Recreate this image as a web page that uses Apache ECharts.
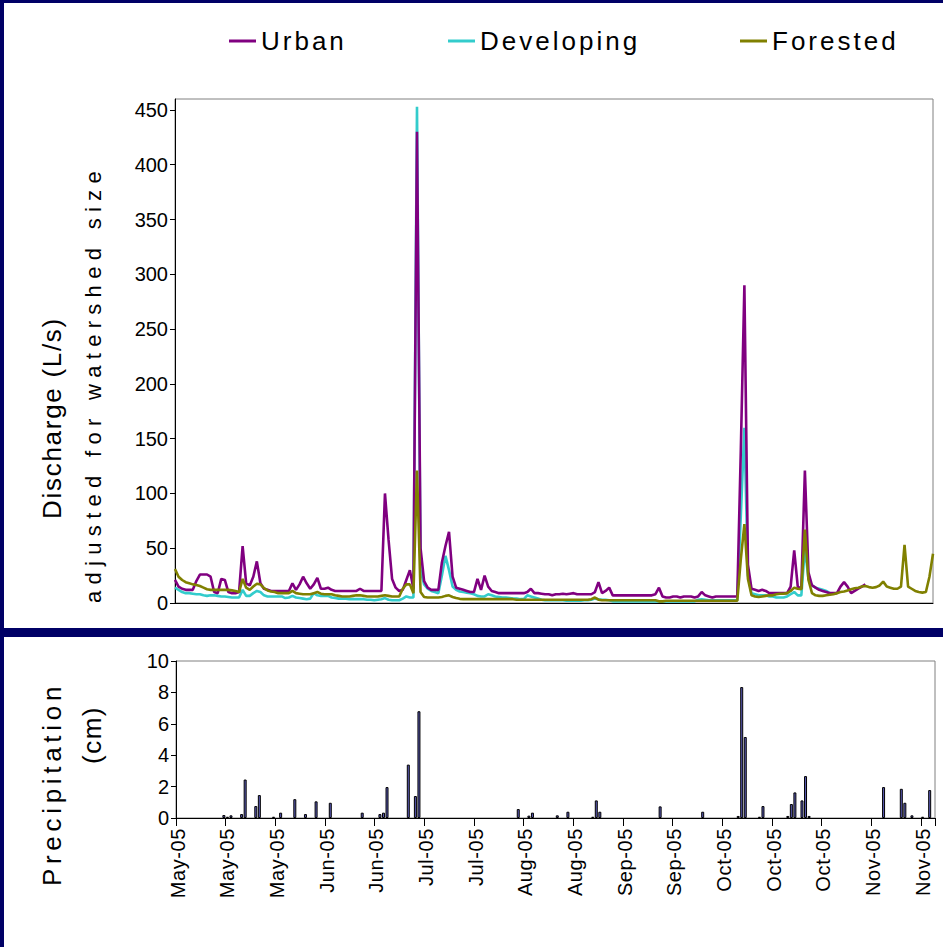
<!DOCTYPE html>
<html><head><meta charset="utf-8">
<script src="https://cdn.jsdelivr.net/npm/echarts@6/dist/echarts.min.js"></script>
<style>
html,body{margin:0;padding:0;background:#000066;}
#wrap{position:relative;width:943px;height:947px;background:#000066;overflow:hidden}
.panel{position:absolute;background:#fff}
#chart{position:absolute;left:0;top:0;width:943px;height:947px}
</style></head><body>
<div id="wrap">
<div class="panel" style="left:4px;top:3px;width:939px;height:625px"></div>
<div class="panel" style="left:4px;top:637px;width:939px;height:310px"></div>
<div id="chart"></div>
</div>
<script>
// ---- data ----
const startDate = [2005, 4, 1]; // 1 May 2005
const dayCount = 214;
const xTickLabels = ['May-05','May-05','May-05','Jun-05','Jun-05','Jul-05','Jul-05','Aug-05','Aug-05','Sep-05','Sep-05','Oct-05','Oct-05','Oct-05','Nov-05','Nov-05'];
const dischargeTicks = [0,50,100,150,200,250,300,350,400,450];
const precipTicks = [0,2,4,6,8,10];

const urban = [
21,15,13,12,12,12,20,26,26,26,
24,10,9,22,21,10,9,9,10,52,
18,16,24,38,18,13,12,11,11,11,
11,11,11,18,12,17,24,18,13,17,
23,13,13,14,12,11,11,11,11,11,
11,11,13,11,11,11,11,11,11,100,
58,22,14,11,12,21,30,13,430,50,
20,14,12,12,12,37,52,65,24,14,
13,12,11,10,10,22,12,25,15,11,
10,9,9,9,9,9,9,9,9,10,
13,9,9,8.5,8,8,7,8,8,8.5,
8,8.5,9,8,8,8,8,8,10,19,
9,11,14,7,7,7,7,7,7,7,
7,7,7,7,7,8,14,6,5,5,
6,6,5,6,6,6,5,6,10,7,
6,5,6,6,6,6,6,6,6,140,
290,35,13,12,11,12,11,9,9,9,
9,9,9,15,48,15,13,121,28,16,
14,12,11,10,9,9,9,15,19,15,
9,11,13,15,17
];
const developing = [
14,12,10,9,9,8.5,8,8,7,6.5,
7,7,6.5,6,6,5.5,5,5,5,12,
6.5,6.5,9,11,10,7,6,6,6,6,
6,4.5,5,6.5,5,4.5,4,3.5,4,9,
7,6.5,6.5,6.5,5,4.5,4,4,4,3.5,
3.5,3.5,3.5,3.5,3,3,2.5,3,3.5,4.5,
3,2.5,2.5,2.5,4,6,5,5,453,30,
17,13,11,10,9,25,43,30,15,12,
10.5,10,9.5,9,8,6.5,6,6,8,7,
6,5.5,5,5,4.5,4,4,3.5,3.5,7,
6,5,4,3,2.5,2.5,2.5,2.5,2.5,2.5,
2,2,2,2,2,2.5,2.5,3,4,3.5,
3,3,2.5,1.5,1.5,1.5,1.5,1.5,1.5,1.5,
1.5,1.5,1.5,1.5,1.5,1.5,1.5,1.5,1.5,1.5,
1.5,1.5,1.5,1.5,1.5,1.5,1.5,3,3.5,3,
2.5,2.5,2.5,2.5,2.5,2.5,2.5,2.5,2.5,80,
160,25,9,8,7,7,7,6,6,5,
5,5,6,8,10,7,7,50,22,16,
14,13,12,11,9
];
const forested = [
31,24,21,19,18,17,16.5,15.5,14,12.5,
12,12,12,12,12,12,11.5,11,10,22,
14,12,15,17.5,17,13.5,11.5,10.5,10,9,
9,9,9,11,9,8.5,8,8,8,9,
10,8.5,8,8,8,7,6.5,6,6,6,
6.5,7,7,6.5,6,6,6,6,6.5,7,
6.5,6,6,6,13,17,17,9,121,10,
5.5,5,5,5,5,5.5,6.5,7,5.5,4.5,
3.8,3.5,3.5,3.5,3.5,3.5,3.5,3.5,3.5,3.5,
3.5,3.5,3.5,3.5,3.5,3.5,3,3,3,3,
3,3,3,3,3,3,3,3,3,3,
3,3,3,3,3,3,3,3.5,5,3,
2.5,2.5,2.5,2.5,2.5,2.5,2.5,2.5,2.5,2.5,
2.5,2.5,2.5,2.5,2.5,2.5,1.5,1.5,2,2,
2,2,2,2,2,2,2,2,2,2,
2,2,2,2,2,2,2,2,2,40,
72,22,7,6,5.5,6,6.5,7,7,8,
8.5,8.5,9,11,14,13,12.5,67,21,9,
7,6.5,6.5,7,7.5,8,9,10,10.5,11.5,
12.5,13.5,14,15,15.5,14.5,14,14.5,16,19.5,
15,14,13,13,15,53,15,13,11,10,
9.5,10,24,45
];
const rainDays = [13,14,15,18,19,22,23,27,29,33,36,39,43,52,57,58,59,65,67,68,96,99,100,107,110,117,118,119,136,148,158,159,160,164,165,172,173,174,176,177,178,199,204,205,207,210,212];
const rainCm   = [0.19,0.08,0.17,0.25,2.45,0.76,1.46,0.08,0.34,1.2,0.25,1.06,0.97,0.34,0.25,0.34,1.97,3.4,1.4,6.8,0.57,0.15,0.34,0.17,0.4,0.08,1.12,0.4,0.74,0.4,0.13,8.34,5.16,0.08,0.76,0.13,0.89,1.63,1.12,2.67,0.13,1.97,1.86,0.97,0.17,0.08,1.78];

// ---- build ----
const categories = [];
for (let i = 0; i < dayCount; i++) {
  const d = new Date(startDate[0], startDate[1] - 1, startDate[2] + i);
  categories.push(d.getFullYear() + '-' + (d.getMonth() + 1) + '-' + d.getDate());
}
const rainData = rainDays.map((d, i) => [d, rainCm[i]]);

const FONT = 'Liberation Sans';
const legendBase = {
  top: 23, icon: 'rect', itemWidth: 27, itemHeight: 3, selectedMode: false,
  textStyle: { fontSize: 26, fontFamily: FONT, color: '#000' }
};
const chart = echarts.init(document.getElementById('chart'), null, { renderer: 'svg', width: 943, height: 947 });
const option = {
  animation: false,
  legend: [
    Object.assign({ data: ['Urban'], left: 224 }, legendBase),
    Object.assign({ data: ['Developing'], left: 443 }, legendBase),
    Object.assign({ data: ['Forested'], left: 735 }, legendBase)
  ],
  grid: [
    { left: 175, right: 10, top: 99, height: 504, show: true, borderColor: '#808080', borderWidth: 1, containLabel: false },
    { left: 176, right: 8, top: 661, height: 157, show: true, borderColor: '#808080', borderWidth: 1, containLabel: false }
  ],
  xAxis: [
    { type: 'category', gridIndex: 0, data: categories, boundaryGap: false,
      axisLine: { lineStyle: { color: '#000', width: 1 } }, axisTick: { show: false }, axisLabel: { show: false }, splitLine: { show: false } },
    { type: 'category', gridIndex: 1, data: categories, boundaryGap: true,
      axisLine: { lineStyle: { color: '#000', width: 1 } },
      axisTick: { show: true, interval: 13, length: 8, lineStyle: { color: '#000' } },
      axisLabel: { interval: 13, rotate: 90, margin: 10, fontSize: 20, fontFamily: FONT, color: '#000',
        formatter: (v, i) => xTickLabels[Math.round(i / 14)] || '' },
      splitLine: { show: false } }
  ],
  yAxis: [
    { type: 'value', gridIndex: 0, min: 0, max: 460, interval: 50,
      axisLine: { show: true, lineStyle: { color: '#000' } },
      axisTick: { show: true, length: 5, lineStyle: { color: '#000' }, customValues: dischargeTicks },
      axisLabel: { fontSize: 20, fontFamily: FONT, color: '#000', margin: 7, customValues: dischargeTicks },
      splitLine: { show: false } },
    { type: 'value', gridIndex: 1, min: 0, max: 10, interval: 2,
      axisLine: { show: true, lineStyle: { color: '#000' } },
      axisTick: { show: true, length: 5, lineStyle: { color: '#000' }, customValues: precipTicks },
      axisLabel: { fontSize: 20, fontFamily: FONT, color: '#000', margin: 7, customValues: precipTicks },
      splitLine: { show: false } }
  ],
  graphic: [
    { type: 'text', x: 52, y: 418, rotation: Math.PI / 2,
      style: { text: 'Discharge (L/s)', fontSize: 26, fontFamily: FONT, fill: '#000', textAlign: 'center', textVerticalAlign: 'middle' } },
    { type: 'text', x: 93, y: 384, rotation: Math.PI / 2,
      style: { text: 'adjusted for watershed size', fontSize: 22, fontFamily: FONT, fill: '#000', textAlign: 'center', textVerticalAlign: 'middle' } },
    { type: 'text', x: 52, y: 784, rotation: Math.PI / 2,
      style: { text: 'Precipitation', fontSize: 26, fontFamily: FONT, fill: '#000', textAlign: 'center', textVerticalAlign: 'middle' } },
    { type: 'text', x: 92, y: 735, rotation: Math.PI / 2,
      style: { text: '(cm)', fontSize: 26, fontFamily: FONT, fill: '#000', textAlign: 'center', textVerticalAlign: 'middle' } }
  ],
  series: [
    { name: 'Urban', type: 'line', xAxisIndex: 0, yAxisIndex: 0, data: urban, symbol: 'none', z: 3,
      itemStyle: { color: '#800080' }, lineStyle: { color: '#800080', width: 2.6 } },
    { name: 'Developing', type: 'line', xAxisIndex: 0, yAxisIndex: 0, data: developing, symbol: 'none', z: 2,
      itemStyle: { color: '#33CCCC' }, lineStyle: { color: '#33CCCC', width: 2.6 } },
    { name: 'Forested', type: 'line', xAxisIndex: 0, yAxisIndex: 0, data: forested, symbol: 'none', z: 4,
      itemStyle: { color: '#808000' }, lineStyle: { color: '#808000', width: 2.6 } },
    { name: 'Precipitation', type: 'bar', xAxisIndex: 1, yAxisIndex: 1, data: rainData, barWidth: 3,
      itemStyle: { color: '#5a5ab4', borderColor: '#000', borderWidth: 1 } }
  ]
};
chart.setOption(option);

const SPACING = { 'Discharge (L/s)': 1.7, 'adjusted for watershed size': 6.3, 'Precipitation': 4.7, '(cm)': 1.5,
  'Urban': 3, 'Developing': 3, 'Forested': 3 };
function applySpacing() {
  document.querySelectorAll('#chart svg text').forEach(t => {
    const s = t.textContent;
    let ls = SPACING[s];
    if (ls === undefined && /^[A-Z][a-z]{2}-05$/.test(s)) ls = 0.6;
    if (ls !== undefined) t.style.letterSpacing = ls + 'px';
  });
}
applySpacing();
chart.on('finished', applySpacing);
setTimeout(applySpacing, 50);
</script>
</body></html>
